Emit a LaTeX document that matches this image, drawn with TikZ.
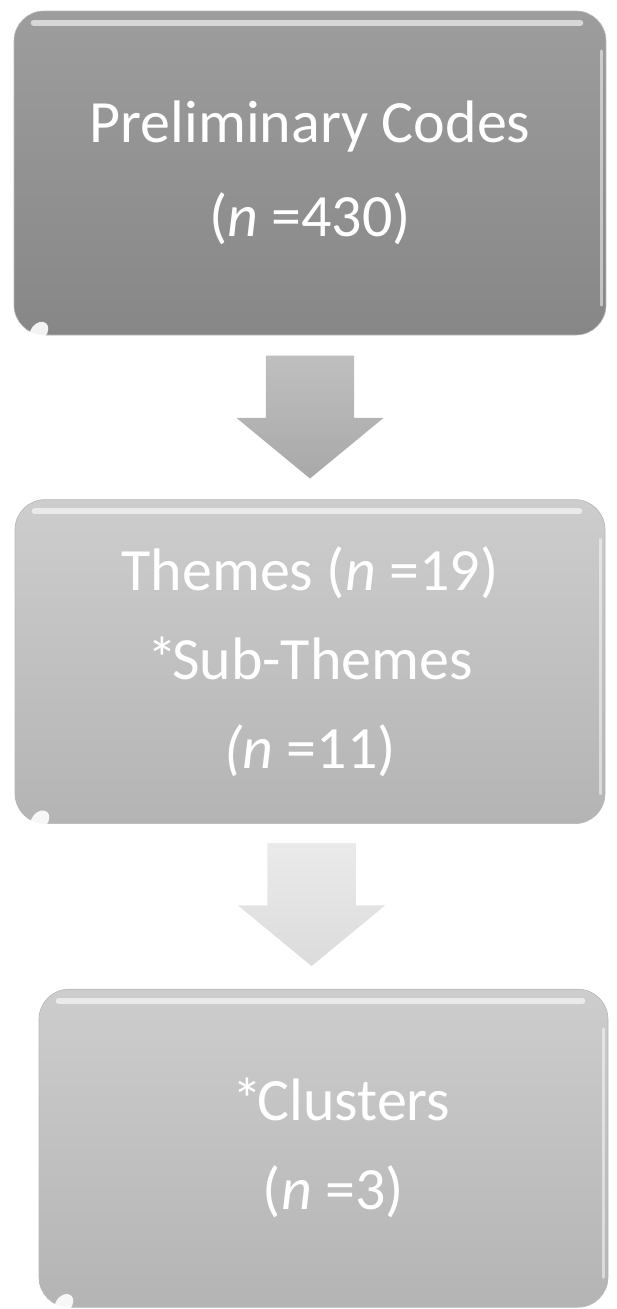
\documentclass[tikz,border=0pt]{standalone}
\usepackage{fontspec}
\setmainfont{Carlito}
\usetikzlibrary{positioning,shapes.arrows,calc}

\definecolor{darktop}{HTML}{9D9D9D}
\definecolor{darkbot}{HTML}{878787}
\definecolor{lighttop}{HTML}{CDCDCD}
\definecolor{lightbot}{HTML}{B4B4B4}

\begin{document}
\begin{tikzpicture}[
    x = 1pt, y = 1pt,
    node distance = 164pt, % gap between stages
    stagebox/.style = {
        rounded corners = 30pt,
        inner sep = 0pt,
        minimum height = 324pt,
        align = center,
        text = white,
        font = \fontsize{60}{89}\selectfont,
        draw = black!28,
        line width = 0.6pt
    },
    darkstage/.style = {stagebox, top color = darktop, bottom color = darkbot},
    lightstage/.style = {stagebox, top color = lighttop, bottom color = lightbot},
    flowarrow/.style = {
        single arrow,
        shape border rotate = 270,
        anchor = tail,
        inner sep = 0pt,
        text width = 88pt,
        minimum height = 123pt,
        minimum width = 147pt,
        single arrow head extend = 29.5pt,
        single arrow tip angle = 101
    },
    gloss/.style = {white, opacity = 0.6, line width = 6pt, line cap = round}
    ]

    \useasboundingbox (0,0) rectangle (616,-1309);

    % stages
    \node[darkstage, minimum width = 592pt, font = \fontsize{60}{94}\selectfont]
        (codes) at (310,-173)
        {Preliminary Codes\\(\textit{n} =430)};
    \node[lightstage, minimum width = 590pt] (themes) [below=of codes]
        {Themes (\textit{n} =19)\\{}*\kern-5pt Sub-Themes\\\textit{(n} =11)};
    \node[lightstage, minimum width = 569pt, minimum height = 318pt] (clusters)
        [below=165pt of themes, xshift=13.5pt]
        {\hspace*{36pt}*\kern-5pt Clusters\\\hspace*{20pt}(\textit{n} =3)};

    % arrows between stages
    \node[flowarrow, top color = black!25, bottom color = black!34]
        (step1) at ($(codes.south)!0.122!(themes.north)$) {};
    \node[flowarrow, top color = black!8, bottom color = black!14]
        (step2) at ($(themes.south)!0.115!(clusters.north)$) {};

    % glossy highlights
    \foreach \b in {codes, themes, clusters} {
        \draw[gloss] ([xshift=20pt,yshift=-12pt]\b.north west)
            -- ([xshift=-26pt,yshift=-12pt]\b.north east);
        \draw[gloss, line width = 2.5pt, opacity = 0.5]
            ([xshift=-5pt,yshift=-40pt]\b.north east)
            -- ([xshift=-5pt,yshift=30pt]\b.south east);
        \fill[white, opacity = 0.9, rotate around = {-40:([shift={(17pt,19pt)}]\b.south west)}]
            ([shift={(17pt,19pt)}]\b.south west) ellipse (8pt and 11pt);
    }
\end{tikzpicture}
\end{document}
